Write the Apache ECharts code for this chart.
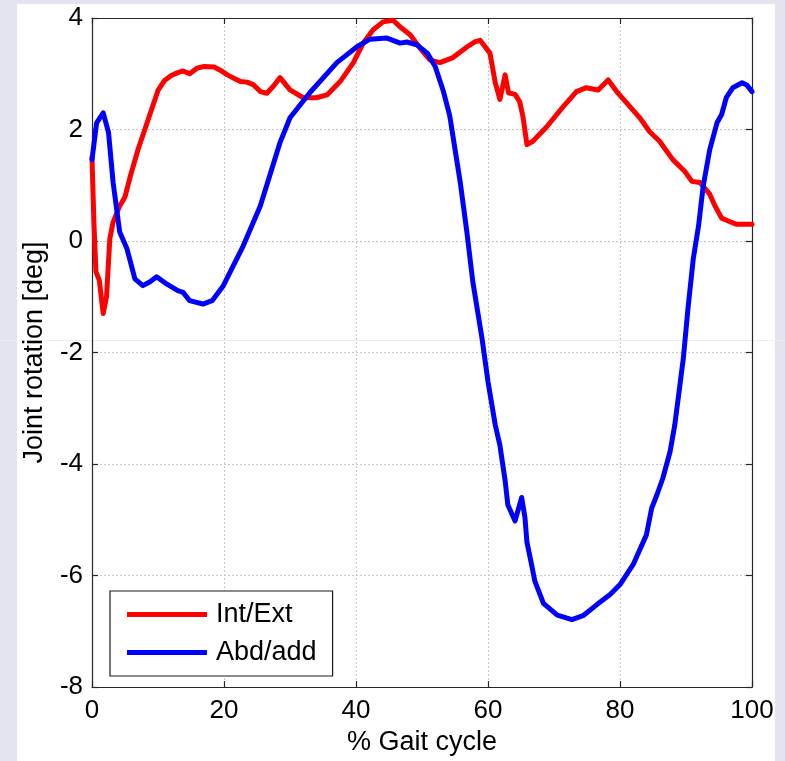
<!DOCTYPE html>
<html>
<head>
<meta charset="utf-8">
<script src="https://cdn.jsdelivr.net/npm/echarts@6/dist/echarts.min.js"></script>
<style>
  html, body { margin: 0; padding: 0; }
  #wrap { position: relative; width: 785px; height: 761px; background: #e4e4ee; overflow: hidden; }
  #paper { position: absolute; left: 17px; top: 4px; width: 758px; height: 757px; background: #ffffff; }
  #chart { position: absolute; left: 0; top: 0; width: 785px; height: 761px; }
</style>
</head>
<body>
<div id="wrap">
  <div id="paper"></div>
  <div id="chart"></div>
</div>
<script>
// Hip joint rotation over one gait cycle (degrees)
const seriesNames = ['Int/Ext', 'Abd/add'];

// Internal / external rotation
const intExtGait = [0, 0.3, 0.6, 1.1, 1.7, 2.2, 2.7, 3.2, 4.2, 5.0, 5.8, 7.0, 8.0, 9.0, 10.0, 11.0, 12.0, 13.0, 13.8, 14.8, 15.9, 17.0, 18.5, 19.5, 20.5, 21.5, 22.5, 23.5, 24.5, 25.5, 26.5, 27.5, 28.5, 30.0, 32.0, 34.0, 35.6, 37.6, 39.6, 41.1, 42.6, 44.1, 45.6, 46.7, 48.2, 49.7, 51.2, 52.7, 54.7, 56.8, 58.0, 58.8, 60.3, 61.1, 61.8, 62.6, 63.1, 64.1, 64.8, 65.3, 65.9, 66.8, 68.9, 71.4, 73.4, 74.9, 76.7, 78.2, 79.5, 81.5, 83.0, 84.5, 86.0, 88.0, 89.8, 90.9, 92.1, 93.6, 94.4, 95.4, 96.4, 97.7, 100];
const intExtDeg  = [1.5, 0.3, -0.55, -0.7, -1.3, -1.0, 0.04, 0.34, 0.63, 0.79, 1.16, 1.65, 2.0, 2.35, 2.7, 2.88, 2.97, 3.02, 3.05, 3.0, 3.1, 3.13, 3.12, 3.06, 2.98, 2.92, 2.86, 2.85, 2.8, 2.68, 2.65, 2.78, 2.93, 2.71, 2.57, 2.57, 2.62, 2.86, 3.2, 3.55, 3.79, 3.93, 3.96, 3.84, 3.7, 3.46, 3.25, 3.2, 3.29, 3.48, 3.57, 3.6, 3.37, 2.84, 2.54, 2.98, 2.66, 2.63, 2.5, 2.23, 1.73, 1.79, 2.05, 2.41, 2.68, 2.75, 2.71, 2.89, 2.68, 2.41, 2.21, 1.96, 1.79, 1.46, 1.25, 1.07, 1.05, 0.84, 0.63, 0.41, 0.36, 0.3, 0.3];

// Abduction / adduction
const abdAddGait = [0, 0.7, 1.7, 2.5, 3.2, 4.2, 5.3, 6.5, 7.7, 8.8, 9.8, 11.3, 13.0, 13.8, 14.8, 16.8, 18.2, 19.9, 22.9, 25.5, 28.5, 30.0, 33.0, 37.1, 40.1, 42.1, 44.7, 46.7, 47.7, 49.2, 50.8, 52.0, 53.2, 54.2, 55.8, 56.8, 57.7, 59.1, 60.0, 61.1, 61.8, 62.6, 63.0, 64.1, 65.1, 65.6, 65.9, 66.6, 67.1, 68.4, 70.5, 72.7, 74.4, 76.5, 78.5, 80.0, 82.0, 84.0, 84.8, 85.6, 86.5, 87.6, 88.3, 89.6, 90.3, 91.1, 91.9, 92.6, 93.6, 94.7, 95.4, 96.1, 97.1, 98.5, 99.2, 100];
const abdAddDeg  = [1.46, 2.12, 2.3, 1.95, 1.05, 0.16, -0.14, -0.68, -0.8, -0.73, -0.64, -0.77, -0.89, -0.92, -1.07, -1.13, -1.07, -0.8, -0.09, 0.63, 1.77, 2.21, 2.66, 3.2, 3.48, 3.62, 3.64, 3.55, 3.57, 3.52, 3.37, 3.13, 2.7, 2.25, 1.05, 0.16, -0.73, -1.75, -2.52, -3.3, -3.66, -4.3, -4.73, -5.02, -4.6, -4.96, -5.4, -5.8, -6.1, -6.5, -6.71, -6.79, -6.72, -6.52, -6.34, -6.16, -5.8, -5.27, -4.79, -4.55, -4.25, -3.77, -3.3, -2.1, -1.21, -0.32, 0.27, 0.98, 1.64, 2.12, 2.27, 2.57, 2.75, 2.84, 2.8, 2.68];

const xTicks = [0, 20, 40, 60, 80, 100];
const yTicks = [-8, -6, -4, -2, 0, 2, 4];

const zip = (xs, ys) => xs.map((x, i) => [x, ys[i]]);
const FONT = '"Liberation Sans", Arial, Helvetica, sans-serif';

const chart = echarts.init(document.getElementById('chart'), null, { renderer: 'canvas' });

const gridLine = { show: true, lineStyle: { color: '#c8c8c8', type: [2, 2], width: 1 } };
const frameLine = { show: true, onZero: false, lineStyle: { color: '#262626', width: 1.2 } };
const inTick = { show: true, inside: true, length: 6, lineStyle: { color: '#262626', width: 1.2 } };

chart.setOption({
  backgroundColor: 'transparent',
  animation: false,
  textStyle: { fontFamily: FONT },
  graphic: [{
    type: 'line',
    silent: true,
    z: -10,
    shape: { x1: 0, y1: 340.5, x2: 785, y2: 340.5 },
    style: { stroke: '#ececf2', lineWidth: 1 }
  }],
  grid: { left: 92, top: 18, width: 660, height: 672, show: false },
  xAxis: [{
    type: 'value', min: xTicks[0], max: xTicks[xTicks.length - 1], interval: 20,
    position: 'bottom',
    name: '% Gait cycle', nameLocation: 'middle', nameGap: 40,
    nameTextStyle: { fontSize: 27, color: '#000', fontFamily: FONT },
    axisLine: frameLine, axisTick: inTick, splitLine: gridLine,
    axisLabel: { fontSize: 26, color: '#000', margin: 11, fontFamily: FONT }
  }, {
    type: 'value', min: xTicks[0], max: xTicks[xTicks.length - 1], interval: 20,
    position: 'top',
    axisLine: frameLine, axisTick: inTick, splitLine: { show: false },
    axisLabel: { show: false }
  }],
  yAxis: [{
    type: 'value', min: yTicks[0], max: yTicks[yTicks.length - 1], interval: 2,
    position: 'left',
    name: 'Joint rotation [deg]', nameLocation: 'middle', nameGap: 44,
    nameTextStyle: { fontSize: 27, color: '#000', fontFamily: FONT },
    axisLine: frameLine, axisTick: inTick, splitLine: gridLine,
    axisLabel: { fontSize: 26, color: '#000', margin: 9, fontFamily: FONT }
  }, {
    type: 'value', min: yTicks[0], max: yTicks[yTicks.length - 1], interval: 2,
    position: 'right',
    axisLine: frameLine, axisTick: inTick, splitLine: { show: false },
    axisLabel: { show: false }
  }],
  legend: {
    orient: 'vertical',
    left: 110, top: 591,
    backgroundColor: '#ffffff',
    borderColor: '#1a1a1a', borderWidth: 1.2,
    padding: [10, 16, 10, 17],
    itemWidth: 80, itemHeight: 5, itemGap: 11,
    icon: 'rect',
    textStyle: { fontSize: 27, color: '#000', fontFamily: FONT, padding: [0, 0, 0, 4] },
    data: seriesNames
  },
  series: [{
    name: seriesNames[0], type: 'line', xAxisIndex: 0, yAxisIndex: 0,
    data: zip(intExtGait, intExtDeg),
    showSymbol: false, smooth: false, color: '#ff0000',
    lineStyle: { color: '#ff0000', width: 5, join: 'round', cap: 'round' },
    z: 3
  }, {
    name: seriesNames[1], type: 'line', xAxisIndex: 0, yAxisIndex: 0,
    data: zip(abdAddGait, abdAddDeg),
    showSymbol: false, smooth: false, color: '#0000ff',
    lineStyle: { color: '#0000ff', width: 5, join: 'round', cap: 'round' },
    z: 4
  }]
});
</script>
</body>
</html>
